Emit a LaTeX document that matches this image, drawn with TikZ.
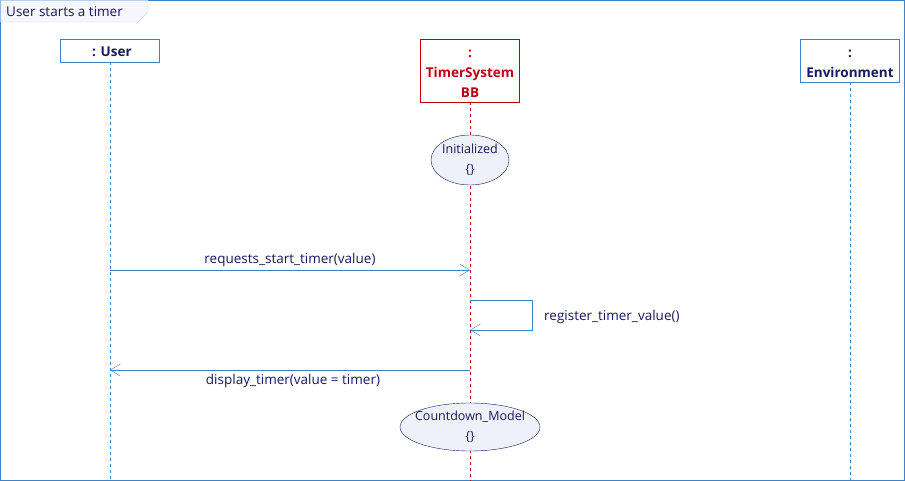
\documentclass[tikz,border=0pt]{standalone}
\usepackage{fontspec}
\setmainfont{Open Sans}
\usetikzlibrary{arrows.meta,shapes.geometric}
\definecolor{bl}{RGB}{60,130,200}
\definecolor{nv}{RGB}{25,25,95}
\definecolor{rd}{RGB}{190,0,20}
\definecolor{tab}{RGB}{245,247,252}
\definecolor{ell}{RGB}{238,240,250}
\begin{document}
\begin{tikzpicture}[x=1pt,y=-1pt,font=\fontsize{13.5pt}{20pt}\selectfont,
  life/.style={draw=bl,fill=white,minimum width=99pt,inner sep=0pt},
  lifetext/.style={align=center,font=\fontsize{13.5pt}{20pt}\selectfont\bfseries,text=nv,inner sep=0pt},
  ellshape/.style={draw=nv,fill=ell},
  state/.style={text=nv,align=center,inner sep=0pt,font=\fontsize{12.5pt}{20pt}\selectfont},
  msg/.style={draw=bl,-{Straight Barb[length=10pt,width=12pt]}},
  lab/.style={text=nv}]
\useasboundingbox (0,0) rectangle (905,481);
\draw[bl] (0.5,0.5) rectangle (904.5,480.5);
\draw[draw=bl!30,fill=tab] (0.5,0.5) -- (148,0.5) -- (148,12) -- (138,22) -- (0.5,22) -- cycle;
\node[anchor=west,text=nv,inner sep=0pt] (title) at (6,12) {User starts a timer};
\node[life,minimum height=23pt] (u) at (110,50.5) {};
\node[lifetext] (ut) at (112,52) {: User};
\node[life,draw=rd,minimum height=63pt] (t) at (470,70.5) {};
\node[lifetext,text=rd] (tt) at (470,74) {:\\TimerSystem\\BB};
\node[life,minimum height=43pt] (e) at (850,60.5) {};
\node[lifetext] (et) at (850,63.5) {:\\Environment};
\coordinate (ub) at (110,481); \coordinate (tb) at (470,481); \coordinate (eb) at (850,481);
\draw[bl,dashed] (u.south) -- (ub);
\draw[bl,dashed] (e.south) -- (eb);
\draw[rd,dashed] (t.south) -- (tb);
\coordinate (c1) at (470,160); \coordinate (c2) at (470,427);
\draw[ellshape] (c1) ellipse [x radius=39, y radius=25];
\draw[ellshape] (c2) ellipse [x radius=70, y radius=24];
\node[state] (s1) at (c1) {Initialized\\\{\}};
\node[state] (s2) at (c2) {Countdown\_Model\\\{\}};
\coordinate (u1) at (110,270); \coordinate (t1) at (470,270);
\draw[msg] (u1) -- (t1) node[lab,midway,above=1pt,inner sep=2pt] (m1) {requests\_start\_timer(value)};
\coordinate (t2) at (470,300); \coordinate (t3) at (470,330);
\draw[msg] (t2) -- (532,300) -- (532,330) -- (t3);
\node[lab,anchor=west,inner sep=0pt] (m2) at (544,317) {register\_timer\_value()};
\coordinate (t4) at (470,370); \coordinate (u4) at (110,370);
\draw[msg] (t4) -- (u4) node[lab,midway,below=4pt,xshift=3pt,inner sep=0pt] (m3) {display\_timer(value = timer)};
\end{tikzpicture}
\end{document}
